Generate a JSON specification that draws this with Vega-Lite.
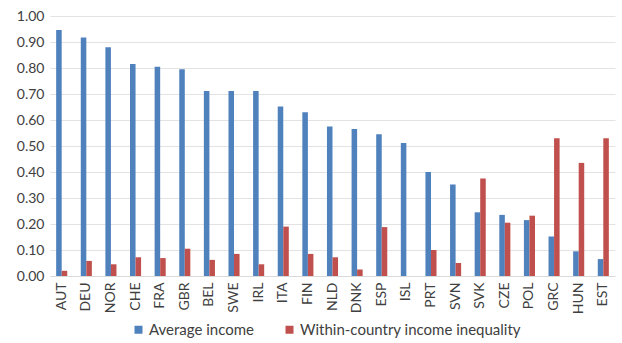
{
  "$schema": "https://vega.github.io/schema/vega-lite/v6.json",
  "width": 565,
  "height": 260,
  "autosize": "none",
  "padding": {"left": 50, "top": 16, "right": 7, "bottom": 67},
  "background": "white",
  "config": {"view": {"stroke": null}, "font": "Lato"},
  "data": {"values": [
    {"c":"AUT","s":"Average income","v":0.946},{"c":"AUT","s":"Within-country income inequality","v":0.02},
    {"c":"DEU","s":"Average income","v":0.917},{"c":"DEU","s":"Within-country income inequality","v":0.058},
    {"c":"NOR","s":"Average income","v":0.88},{"c":"NOR","s":"Within-country income inequality","v":0.045},
    {"c":"CHE","s":"Average income","v":0.815},{"c":"CHE","s":"Within-country income inequality","v":0.072},
    {"c":"FRA","s":"Average income","v":0.805},{"c":"FRA","s":"Within-country income inequality","v":0.069},
    {"c":"GBR","s":"Average income","v":0.795},{"c":"GBR","s":"Within-country income inequality","v":0.105},
    {"c":"BEL","s":"Average income","v":0.712},{"c":"BEL","s":"Within-country income inequality","v":0.062},
    {"c":"SWE","s":"Average income","v":0.712},{"c":"SWE","s":"Within-country income inequality","v":0.085},
    {"c":"IRL","s":"Average income","v":0.712},{"c":"IRL","s":"Within-country income inequality","v":0.045},
    {"c":"ITA","s":"Average income","v":0.652},{"c":"ITA","s":"Within-country income inequality","v":0.19},
    {"c":"FIN","s":"Average income","v":0.63},{"c":"FIN","s":"Within-country income inequality","v":0.085},
    {"c":"NLD","s":"Average income","v":0.575},{"c":"NLD","s":"Within-country income inequality","v":0.072},
    {"c":"DNK","s":"Average income","v":0.565},{"c":"DNK","s":"Within-country income inequality","v":0.025},
    {"c":"ESP","s":"Average income","v":0.545},{"c":"ESP","s":"Within-country income inequality","v":0.188},
    {"c":"ISL","s":"Average income","v":0.512},{"c":"ISL","s":"Within-country income inequality","v":0},
    {"c":"PRT","s":"Average income","v":0.40},{"c":"PRT","s":"Within-country income inequality","v":0.10},
    {"c":"SVN","s":"Average income","v":0.352},{"c":"SVN","s":"Within-country income inequality","v":0.05},
    {"c":"SVK","s":"Average income","v":0.245},{"c":"SVK","s":"Within-country income inequality","v":0.375},
    {"c":"CZE","s":"Average income","v":0.235},{"c":"CZE","s":"Within-country income inequality","v":0.205},
    {"c":"POL","s":"Average income","v":0.215},{"c":"POL","s":"Within-country income inequality","v":0.232},
    {"c":"GRC","s":"Average income","v":0.152},{"c":"GRC","s":"Within-country income inequality","v":0.53},
    {"c":"HUN","s":"Average income","v":0.095},{"c":"HUN","s":"Within-country income inequality","v":0.435},
    {"c":"EST","s":"Average income","v":0.065},{"c":"EST","s":"Within-country income inequality","v":0.53}
  ]},
  "mark": {"type": "bar"},
  "encoding": {
    "x": {"field": "c", "type": "nominal", "sort": null,
      "scale": {"paddingInner": 0.55, "paddingOuter": 0.25},
      "axis": {"title": null, "labelAngle": -90, "labelFontSize": 14, "labelColor": "#404040", "ticks": false, "domainColor": "#d9d9d9", "labelPadding": 6, "labelAlign": "right", "labelBaseline": "middle"}},
    "xOffset": {"field": "s", "type": "nominal", "scale": {"paddingInner": 0}},
    "y": {"field": "v", "type": "quantitative",
      "scale": {"domain": [0, 1], "nice": false},
      "axis": {"title": null, "values": [0,0.1,0.2,0.3,0.4,0.5,0.6,0.7,0.8,0.9,1.0], "format": ".2f", "labelFontSize": 14, "labelColor": "#404040", "domain": false, "ticks": false, "gridColor": "#e3e3e3", "labelPadding": 6}},
    "color": {"field": "s", "type": "nominal",
      "scale": {"domain": ["Average income", "Within-country income inequality"], "range": ["#4f81bd", "#c0504d"]},
      "legend": {"title": null, "orient": "none", "legendX": 81, "legendY": 306, "direction": "horizontal", "symbolType": "square", "symbolSize": 64, "labelFontSize": 15, "labelColor": "#404040", "columnPadding": 28, "symbolStrokeWidth": 0, "labelLimit": 0, "labelOffset": 3}}
  }
}
